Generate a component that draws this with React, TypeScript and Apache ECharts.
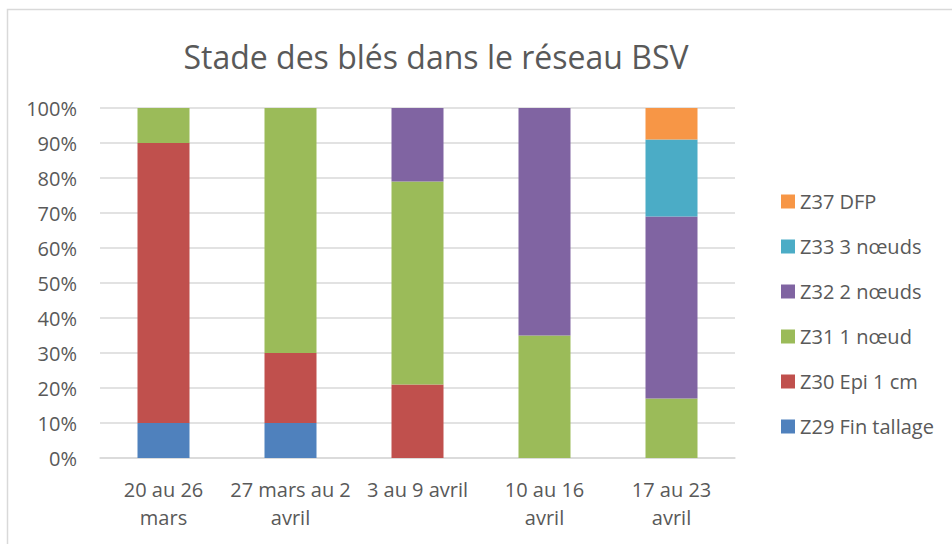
import React, { useEffect, useRef } from "react";
import * as echarts from "echarts";

const categories = ["20 au 26\nmars", "27 mars au 2\navril", "3 au 9 avril", "10 au 16\navril", "17 au 23\navril"];
const z29 = [10, 10, 0, 0, 0];
const z30 = [80, 20, 21, 0, 0];
const z31 = [10, 70, 58, 35, 17];
const z32 = [0, 0, 21, 65, 52];
const z33 = [0, 0, 0, 0, 22];
const z37 = [0, 0, 0, 0, 9];
const seriesNames = ["Z29 Fin tallage", "Z30 Epi 1 cm", "Z31 1 nœud", "Z32 2 nœuds", "Z33 3 nœuds", "Z37 DFP"];
const seriesColors = ["#4F81BD", "#C0504D", "#9BBB59", "#8064A2", "#4BACC6", "#F79646"];
const yTicks = [0, 10, 20, 30, 40, 50, 60, 70, 80, 90, 100];

const FONT = "'Open Sans', 'Noto Sans', sans-serif";

export default function App() {
  const ref = useRef<HTMLDivElement>(null);
  useEffect(() => {
    if (!ref.current) return;
    const chart = echarts.init(ref.current, null, { renderer: "svg" });
    const values = [z29, z30, z31, z32, z33, z37];
    chart.setOption({
      animation: false,
      backgroundColor: "#ffffff",
      title: {
        text: "Stade des blés dans le réseau BSV",
        left: 431,
        textAlign: "center",
        top: 35,
        textStyle: { fontFamily: FONT, fontSize: 32, fontWeight: "normal", color: "#595959" },
      },
      graphic: [
        {
          type: "rect",
          shape: { x: 7.5, y: 9.5, width: 1000, height: 600 },
          style: { fill: "none", stroke: "#D9D9D9", lineWidth: 1.5 },
          silent: true,
        },
      ],
      legend: {
        orient: "vertical",
        left: 776,
        top: 186,
        itemWidth: 14,
        itemHeight: 14,
        itemGap: 24,
        icon: "rect",
        data: seriesNames.slice().reverse(),
        textStyle: { fontFamily: FONT, fontSize: 20, lineHeight: 21, color: "#595959" },
      },
      grid: { left: 100, right: 217, top: 108, bottom: 86, containLabel: false },
      xAxis: {
        type: "category",
        data: categories,
        axisTick: { show: false },
        axisLine: { lineStyle: { color: "#D9D9D9", width: 1.5 } },
        axisLabel: {
          fontFamily: FONT,
          fontSize: 20,
          color: "#595959",
          lineHeight: 28,
          margin: 17,
          interval: 0,
        },
      },
      yAxis: {
        type: "value",
        min: 0,
        max: 100,
        interval: 10,
        axisLine: { show: false },
        axisTick: { show: false },
        splitLine: { lineStyle: { color: "#D9D9D9", width: 1.5 } },
        axisLabel: {
          fontFamily: FONT,
          fontSize: 20,
          color: "#595959",
          margin: 23,
          formatter: (v: number) => (yTicks.includes(v) ? v + "%" : ""),
        },
      },
      series: seriesNames.map((name, i) => ({
        name,
        type: "bar",
        stack: "total",
        barWidth: 52,
        data: values[i],
        itemStyle: { color: seriesColors[i] },
      })),
    });
    return () => chart.dispose();
  }, []);
  return (
    <div
      ref={ref}
      style={{ position: "absolute", left: 0, top: 0, width: 952, height: 544 }}
    />
  );
}
